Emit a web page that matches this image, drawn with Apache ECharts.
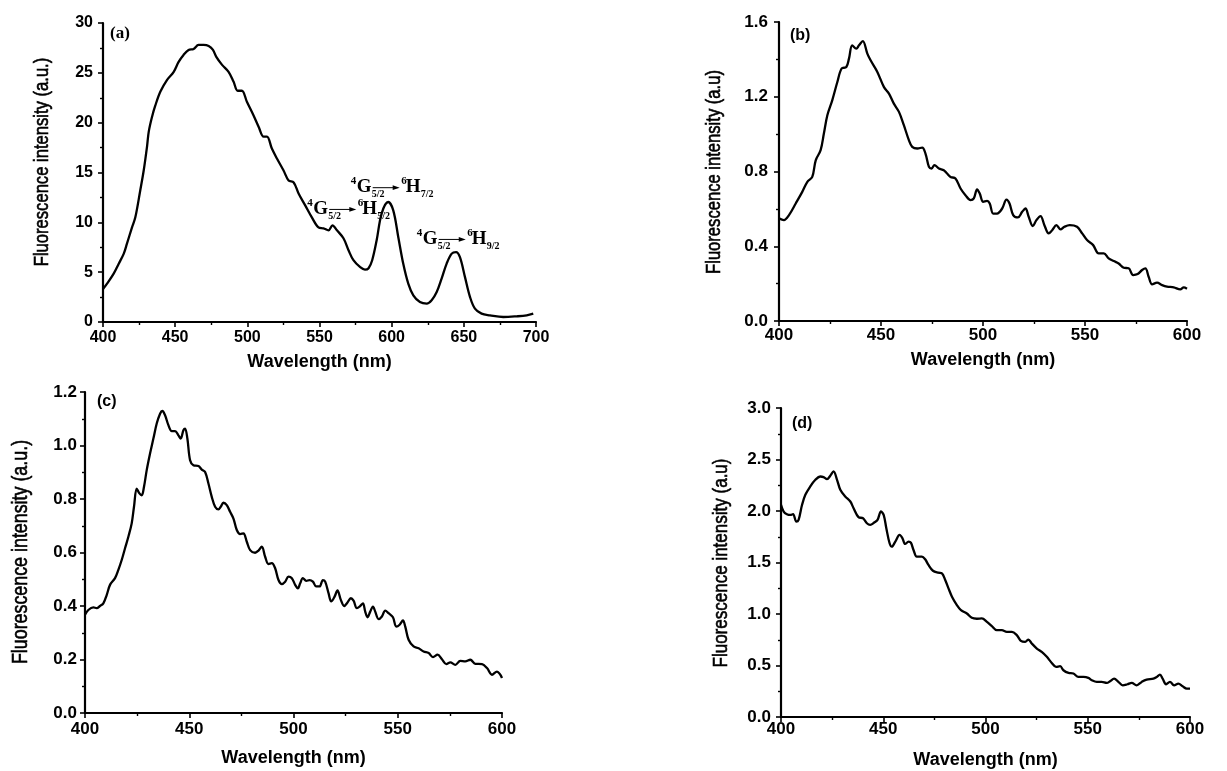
<!DOCTYPE html>
<html>
<head>
<meta charset="utf-8">
<title>Fluorescence spectra</title>
<script src="https://cdn.jsdelivr.net/npm/echarts@6/dist/echarts.min.js"></script>
<style>
  html, body { margin: 0; padding: 0; background: #ffffff; }
  #chart { width: 1227px; height: 771px; }
</style>
</head>
<body>
<div id="chart"></div>
<script>
// ---- (a) emission, 400–700 nm ----
const aWavelength = [400, 402.8, 407.4, 410.9, 414.4, 416.6, 420.1, 422.4, 425.8, 428.2, 430.5, 431.7, 434, 436.2, 439.7, 444.4, 449, 452.4, 455.8, 459.3, 462.8, 466.2, 469.7, 473.2, 476.2, 478.5, 482.5, 487, 490.5, 493.3, 496.2, 499.7, 504.4, 507.8, 511.3, 513.6, 517, 520.5, 525.1, 528.6, 532.1, 535.5, 540.1, 544.7, 549.3, 552.8, 556.2, 559, 562.1, 566.6, 570.1, 573.5, 578.2, 581.5, 584, 586.5, 589.6, 593.1, 597.6, 601.1, 604.6, 608, 611.5, 615, 619.6, 624.3, 627.7, 631.2, 634.6, 638.1, 641.6, 644.6, 647.3, 650.8, 654.3, 657.7, 662.3, 668.1, 677.3, 686.6, 693.6, 698.1];
const aIntensity = [3.3, 3.85, 4.85, 5.85, 6.86, 7.86, 9.5, 10.5, 13.2, 15.2, 17.6, 19.1, 20.6, 21.7, 23.1, 24.3, 25.1, 26.1, 26.8, 27.3, 27.4, 27.8, 27.8, 27.7, 27.3, 26.6, 25.8, 25.1, 24.1, 23.2, 23.2, 22.1, 20.7, 19.6, 18.6, 18.6, 17.4, 16.4, 15.2, 14.2, 14.0, 12.9, 11.7, 10.5, 9.5, 9.4, 9.2, 9.7, 9.2, 8.4, 7.2, 6.2, 5.5, 5.26, 5.4, 6.2, 8.2, 10.9, 12.04, 11.2, 8.5, 5.86, 3.85, 2.68, 2.0, 1.84, 2.18, 3.0, 4.35, 5.86, 6.86, 7.02, 6.5, 4.5, 2.5, 1.34, 0.84, 0.67, 0.5, 0.57, 0.67, 0.84];
const aXTicks = [400, 450, 500, 550, 600, 650, 700];
const aYTicks = [0, 5, 10, 15, 20, 25, 30];
// Sm3+ transitions marked on (a): [approx. band position (nm), lower level]
const aTransitions = [[559, '5/2'], [598, '7/2'], [645, '9/2']];

// ---- (b) ----
const bWavelength = [400, 402.4, 404.9, 408.2, 411.4, 413.9, 416.3, 418, 420.4, 422, 423.7, 426.1, 428.6, 430.7, 433, 434.3, 435.9, 437.9, 439.2, 441.1, 443.3, 444.9, 448.2, 451.4, 453.9, 456.3, 458.8, 461.2, 463.7, 465.3, 467.8, 470.2, 471.8, 473.5, 474.8, 476.2, 478.4, 480.8, 482.4, 484.1, 486.5, 489, 491.4, 493.9, 495.5, 497.1, 498.4, 500.1, 502, 503.3, 505, 506.9, 509.4, 511.5, 513, 514.8, 517.1, 519.2, 520.8, 522.4, 524.4, 526.2, 528.2, 530.1, 532.2, 533.9, 536, 538, 539.9, 542.5, 546.1, 548.6, 551, 554, 556.7, 559.2, 561.6, 564.1, 566.5, 569, 571.4, 573.6, 575.8, 578, 579.6, 581.2, 582.9, 585.3, 587.8, 590.2, 593.5, 596.7, 598.4, 600];
const bIntensity = [0.549, 0.54, 0.567, 0.629, 0.691, 0.745, 0.771, 0.86, 0.914, 1.003, 1.101, 1.181, 1.279, 1.351, 1.359, 1.404, 1.475, 1.457, 1.475, 1.498, 1.431, 1.395, 1.333, 1.253, 1.217, 1.163, 1.119, 1.048, 0.967, 0.932, 0.923, 0.928, 0.896, 0.825, 0.816, 0.834, 0.816, 0.807, 0.789, 0.771, 0.763, 0.709, 0.673, 0.647, 0.656, 0.704, 0.682, 0.638, 0.643, 0.629, 0.575, 0.575, 0.602, 0.65, 0.629, 0.567, 0.554, 0.584, 0.602, 0.558, 0.508, 0.54, 0.561, 0.513, 0.469, 0.486, 0.513, 0.49, 0.504, 0.513, 0.504, 0.469, 0.433, 0.406, 0.362, 0.362, 0.335, 0.321, 0.308, 0.285, 0.282, 0.246, 0.251, 0.273, 0.282, 0.237, 0.196, 0.205, 0.192, 0.184, 0.18, 0.169, 0.18, 0.173];
const bXTicks = [400, 450, 500, 550, 600];
const bYTicks = [0, 0.4, 0.8, 1.2, 1.6];

// ---- (c) ----
const cWavelength = [400, 401.6, 404, 405.6, 407.2, 408.8, 410.4, 412, 414.4, 416, 417.6, 419.2, 420.8, 422.4, 423.5, 424.8, 426.1, 427.2, 428.3, 429.6, 431.2, 432.8, 434.4, 436, 437.1, 438.4, 440, 441.6, 443.2, 444.8, 445.9, 447.2, 448, 449.1, 450.4, 452, 454.4, 456, 457.6, 459.2, 460.8, 462.4, 464, 465.1, 466.4, 468, 469.6, 471.2, 472.8, 474.4, 476, 477.6, 479.2, 481.6, 483.2, 484.8, 486.4, 488, 489.6, 491.2, 492.8, 494.4, 496, 497.6, 499.2, 500.8, 502.1, 503.2, 504.5, 506.1, 507.7, 509.3, 510.9, 512.5, 514.1, 515.2, 516.8, 518.1, 519.7, 521.1, 522.7, 524.3, 525.9, 527.5, 528.8, 530.4, 532, 533.3, 534.4, 535.5, 536.8, 538.1, 539.2, 540.8, 542.4, 544, 545.6, 547.7, 549.3, 550.9, 552.5, 553.6, 555.2, 557.6, 560, 562.4, 564.8, 566.9, 569.1, 571.2, 573.3, 575.2, 577.6, 580, 582.4, 584.8, 587.2, 590.4, 592.8, 595.2, 597.6, 599.2, 600];
const cIntensity = [0.367, 0.385, 0.395, 0.392, 0.4, 0.41, 0.441, 0.479, 0.504, 0.535, 0.572, 0.616, 0.659, 0.709, 0.771, 0.839, 0.821, 0.814, 0.846, 0.908, 0.97, 1.026, 1.082, 1.119, 1.129, 1.113, 1.076, 1.054, 1.054, 1.038, 1.026, 1.057, 1.063, 1.026, 0.945, 0.926, 0.923, 0.91, 0.901, 0.858, 0.808, 0.771, 0.761, 0.771, 0.786, 0.777, 0.752, 0.727, 0.684, 0.669, 0.671, 0.64, 0.609, 0.599, 0.607, 0.622, 0.584, 0.557, 0.56, 0.541, 0.497, 0.482, 0.491, 0.51, 0.504, 0.479, 0.466, 0.485, 0.504, 0.494, 0.497, 0.491, 0.473, 0.473, 0.497, 0.491, 0.448, 0.417, 0.435, 0.458, 0.423, 0.4, 0.413, 0.429, 0.42, 0.392, 0.4, 0.41, 0.379, 0.358, 0.379, 0.398, 0.379, 0.351, 0.361, 0.383, 0.373, 0.358, 0.323, 0.33, 0.346, 0.323, 0.274, 0.249, 0.242, 0.23, 0.224, 0.209, 0.218, 0.201, 0.183, 0.189, 0.18, 0.195, 0.193, 0.199, 0.184, 0.183, 0.168, 0.143, 0.155, 0.143, 0.131];
const cXTicks = [400, 450, 500, 550, 600];
const cYTicks = [0, 0.2, 0.4, 0.6, 0.8, 1.0, 1.2];

// ---- (d) ----
const dWavelength = [400, 401.3, 402.9, 404.6, 405.9, 407.5, 408.6, 410.3, 411.9, 414.3, 416.8, 419.2, 420.8, 422.5, 424.1, 425.7, 427.4, 429, 431.4, 433.9, 435.5, 437.9, 440.1, 442, 443.6, 445.6, 447.2, 448.9, 450.2, 451.5, 453.1, 454.2, 455.9, 458, 459.4, 460.7, 462.4, 463.5, 464.8, 466.4, 468.9, 470.5, 472.1, 474.3, 477, 478.7, 480.3, 481.9, 483.6, 486, 488, 490.9, 493.3, 495.8, 498.2, 500.7, 503.1, 505.5, 508, 510.4, 512.9, 515.3, 517.3, 519.4, 521, 522.6, 525.1, 527.5, 530, 532.4, 534.5, 536.5, 538.1, 540.6, 543, 545.4, 547.9, 550.3, 552, 554.4, 556.8, 559.3, 560.9, 562.9, 565, 567.1, 569.4, 571.5, 573.9, 576.4, 578.8, 582.1, 583.7, 585.3, 586.6, 588.3, 590.2, 592.2, 594.3, 596.4, 598.4, 600];
const dIntensity = [2.06, 1.995, 1.969, 1.962, 1.969, 1.897, 1.914, 2.06, 2.157, 2.238, 2.303, 2.335, 2.329, 2.309, 2.342, 2.384, 2.303, 2.206, 2.141, 2.092, 2.027, 1.94, 1.93, 1.881, 1.865, 1.888, 1.914, 1.995, 1.962, 1.833, 1.687, 1.654, 1.703, 1.768, 1.735, 1.68, 1.703, 1.693, 1.622, 1.557, 1.557, 1.531, 1.476, 1.42, 1.401, 1.395, 1.33, 1.249, 1.168, 1.087, 1.038, 1.005, 0.963, 0.954, 0.957, 0.924, 0.882, 0.843, 0.843, 0.827, 0.827, 0.795, 0.74, 0.73, 0.752, 0.714, 0.665, 0.632, 0.584, 0.525, 0.487, 0.493, 0.454, 0.428, 0.422, 0.389, 0.389, 0.38, 0.357, 0.341, 0.341, 0.331, 0.347, 0.373, 0.341, 0.308, 0.318, 0.331, 0.308, 0.341, 0.363, 0.373, 0.389, 0.412, 0.373, 0.318, 0.341, 0.308, 0.324, 0.298, 0.276, 0.276];
const dXTicks = [400, 450, 500, 550, 600];
const dYTicks = [0, 0.5, 1.0, 1.5, 2.0, 2.5, 3.0];

const xAxisTitle = 'Wavelength (nm)';

// Panel layout (pixel boxes and text placement)
const SANS = '"Liberation Sans", Arial, Helvetica, sans-serif';
const SERIF = '"Liberation Serif", "Times New Roman", Times, serif';

const panels = [
  { w: aWavelength, v: aIntensity, xt: aXTicks, yt: aYTicks, dec: 0,
    grid: { left: 103, top: 23, width: 433, height: 299 },
    tickFont: 16, xMargin: 8, yMargin: 10, nameGap: 31,
    yName: 'Fluorescence intensity (a.u.)', yNamePos: [42, 162], yNameSize: 20,
    tag: '(a)', tagPos: [110, 34], tagFont: SERIF, tagSize: 17 },
  { w: bWavelength, v: bIntensity, xt: bXTicks, yt: bYTicks, dec: 1,
    grid: { left: 779, top: 22, width: 408, height: 299 },
    tickFont: 17, xMargin: 5.5, yMargin: 11, nameGap: 30,
    yName: 'Fluorescence intensity (a.u)', yNamePos: [714, 172], yNameSize: 20,
    tag: '(b)', tagPos: [790, 36], tagFont: SANS, tagSize: 16 },
  { w: cWavelength, v: cIntensity, xt: cXTicks, yt: cYTicks, dec: 1,
    grid: { left: 85, top: 392, width: 417, height: 321 },
    tickFont: 17, xMargin: 8, yMargin: 8, nameGap: 36,
    yName: 'Fluorescence intensity (a.u.)', yNamePos: [21, 552], yNameSize: 21.5,
    tag: '(c)', tagPos: [97, 402], tagFont: SANS, tagSize: 16 },
  { w: dWavelength, v: dIntensity, xt: dXTicks, yt: dYTicks, dec: 1,
    grid: { left: 781, top: 408, width: 409, height: 309 },
    tickFont: 17, xMargin: 3.5, yMargin: 10, nameGap: 34,
    yName: 'Fluorescence intensity (a.u)', yNamePos: [721, 563], yNameSize: 20.5,
    tag: '(d)', tagPos: [792, 424], tagFont: SANS, tagSize: 16 }
];

function pairs(xs, ys) {
  const n = Math.min(xs.length, ys.length);
  const out = [];
  for (let i = 0; i < n; i++) out.push([xs[i], ys[i]]);
  return out;
}

const axisLine = { show: true, onZero: false, lineStyle: { color: '#000', width: 2.2 } };
const axisTick = { show: true, inside: false, length: 5, lineStyle: { color: '#000', width: 1.6 } };
const minorTick = { show: true, splitNumber: 2, length: 3, lineStyle: { color: '#000', width: 1.4 } };

const option = {
  animation: false,
  backgroundColor: '#ffffff',
  grid: panels.map(p => Object.assign({ outerBoundsMode: 'none', containLabel: false, show: false }, p.grid)),
  xAxis: panels.map((p, i) => ({
    type: 'value', gridIndex: i,
    min: p.xt[0], max: p.xt[p.xt.length - 1], interval: p.xt[1] - p.xt[0],
    name: xAxisTitle, nameLocation: 'middle', nameGap: p.nameGap,
    nameTextStyle: { color: '#000', fontFamily: SANS, fontWeight: 'bold', fontSize: 18 },
    axisLine, axisTick, minorTick, splitLine: { show: false }, minorSplitLine: { show: false },
    axisLabel: { color: '#000', fontFamily: SANS, fontWeight: 'bold', fontSize: p.tickFont, margin: p.xMargin,
                 hideOverlap: false, showMinLabel: true, showMaxLabel: true }
  })),
  yAxis: panels.map((p, i) => ({
    type: 'value', gridIndex: i,
    min: p.yt[0], max: p.yt[p.yt.length - 1], interval: p.yt[1] - p.yt[0],
    axisLine, axisTick, minorTick, splitLine: { show: false }, minorSplitLine: { show: false },
    axisLabel: { color: '#000', fontFamily: SANS, fontWeight: 'bold', fontSize: p.tickFont, margin: p.yMargin,
                 hideOverlap: false, showMinLabel: true, showMaxLabel: true,
                 formatter: val => val.toFixed(p.dec) }
  })),
  series: panels.map((p, i) => ({
    type: 'line', xAxisIndex: i, yAxisIndex: i,
    data: pairs(p.w, p.v),
    showSymbol: false, symbol: 'none', smooth: 0.35,
    lineStyle: { color: '#000', width: 2.3 },
    silent: true
  }))
};

const chart = echarts.init(document.getElementById('chart'), null, { renderer: 'canvas' });
chart.setOption(option);

// Highest point of a series within a window around a given wavelength
function peakNear(xs, ys, center, half) {
  let best = null;
  for (let i = 0; i < Math.min(xs.length, ys.length); i++) {
    if (Math.abs(xs[i] - center) <= half && (!best || ys[i] > best[1])) best = [xs[i], ys[i]];
  }
  return best;
}

function txt(text, x, y, size, family, weight, align) {
  return { type: 'text', x, y, silent: true,
    style: { text, fill: '#000', fontSize: size, fontFamily: family, fontWeight: weight,
             align: align || 'left', verticalAlign: 'middle' } };
}

// 4G5/2 -> 6H(lower) label; origin = left edge / baseline of "G"
function transitionLabel(px, py, lower) {
  return { type: 'group', x: px, y: py, silent: true, children: [
    txt('4', -0.5, -11.7, 11, SERIF, 'bold', 'right'),
    txt('G', 0, -6.3, 19, SERIF, 'bold'),
    txt('5/2', 15, 1.2, 10, SERIF, 'bold'),
    { type: 'line', shape: { x1: 16, y1: -5.6, x2: 37, y2: -5.6 }, style: { stroke: '#000', lineWidth: 1 } },
    { type: 'polygon', shape: { points: [[43, -5.6], [36, -8], [36, -3.2]] }, style: { fill: '#000' } },
    txt('6', 44.5, -11.7, 11, SERIF, 'bold'),
    txt('H', 49, -6.3, 19, SERIF, 'bold'),
    txt(lower, 64, 1.2, 10, SERIF, 'bold')
  ] };
}

const graphics = [];
// label offset from the band maximum, per transition
const labelOffsets = { '5/2': [-19.2, -10.3], '7/2': [-31.5, -8.7], '9/2': [-33.3, -7] };
aTransitions.forEach(([nm, lower]) => {
  const pk = peakNear(aWavelength, aIntensity, nm, 3);
  const pt = chart.convertToPixel({ xAxisIndex: 0, yAxisIndex: 0 }, pk);
  const off = labelOffsets[lower];
  graphics.push(transitionLabel(pt[0] + off[0], pt[1] + off[1], lower));
});

panels.forEach(p => {
  // panel tag
  graphics.push(txt(p.tag, p.tagPos[0], p.tagPos[1], p.tagSize, p.tagFont, 'bold', 'left'));
  // vertical axis title (condensed face)
  graphics.push({ type: 'text', x: p.yNamePos[0], y: p.yNamePos[1], rotation: Math.PI / 2, scaleX: 0.83, silent: true,
    style: { text: p.yName, fill: '#000', stroke: '#000', lineWidth: 0.6, fontSize: p.yNameSize, fontFamily: SANS,
             fontWeight: 'normal', align: 'center', verticalAlign: 'middle' } });
});

chart.setOption({ graphic: graphics });
</script>
</body>
</html>
